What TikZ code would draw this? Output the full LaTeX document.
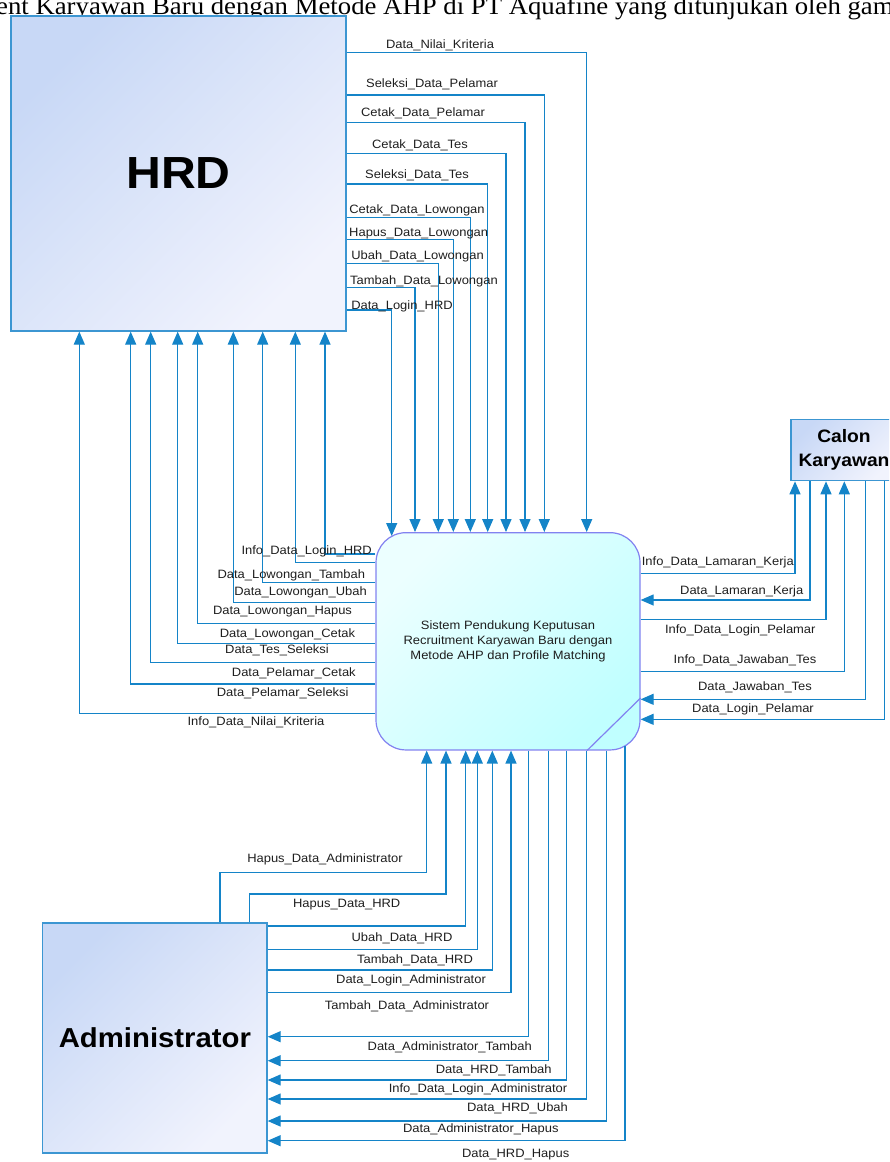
\documentclass[tikz,border=0pt]{standalone}
\usepackage{fontspec}
\setmainfont{Liberation Sans}
\newfontfamily\lblfont[FakeStretch=1.07]{Liberation Sans}
\newfontfamily\capfont[FakeStretch=1.07]{Liberation Serif}
\usetikzlibrary{arrows.meta}

\definecolor{flowc}{RGB}{20,132,200}
\definecolor{boxline}{RGB}{60,150,210}
\definecolor{boxA}{RGB}{200,216,246}
\definecolor{boxB}{RGB}{241,243,253}
\definecolor{procA}{RGB}{236,255,255}
\definecolor{procB}{RGB}{192,255,255}
\definecolor{procline}{RGB}{130,130,240}
\definecolor{txt}{RGB}{30,30,30}

\tikzset{
  flow/.style={draw=flowc, line width=1.2pt, -{Triangle[length=13pt,width=11pt]}},
  lbl/.style={font=\lblfont\fontsize{12.1}{14}\selectfont, inner sep=0pt, text=txt,
              text height=8.7pt, text depth=2.6pt},
  entity/.style={draw=boxline, line width=1.2pt, rectangle, inner sep=0pt,
                 top color=boxA, bottom color=boxB, shading angle=45,
                 align=center, text=black},
  process/.style={draw=procline, line width=1.2pt, rectangle, rounded corners=30pt,
                  inner sep=0pt, top color=procA, bottom color=procB, shading angle=45,
                  align=center, text=txt,
                  font=\lblfont\fontsize{12.1}{15}\selectfont}
}

\begin{document}
\begin{tikzpicture}[x=1pt,y=-1pt]
\useasboundingbox (0,0) rectangle (889,1162);
\clip (0,0) rectangle (889,1162);

% running text line of the surrounding page
\node[anchor=base west, inner sep=0pt, font=\capfont\fontsize{25}{30}\selectfont]
  (pageline) at (-4,14.5) {ent Karyawan Baru dengan Metode AHP di PT Aquafine yang ditunjukan oleh gam};

% external entities and the process
\node[entity, minimum width=335pt, minimum height=315pt,
      font=\lblfont\bfseries\fontsize{45}{50}\selectfont] (hrd) at (178.5,173.5) {HRD};
\node[entity, minimum width=106pt, minimum height=61.4pt,
      font=\lblfont\bfseries\fontsize{18}{24}\selectfont] (cal) at (844,450) {Calon\\Karyawan};
\node[entity, minimum width=224.3pt, minimum height=230pt,
      font=\lblfont\bfseries\fontsize{27.4}{30}\selectfont] (adm) at (154.9,1038) {Administrator};
\node[process, minimum width=264pt, minimum height=217.3pt] (proc) at (508,641.3)
  {Sistem Pendukung Keputusan\\Recruitment Karyawan Baru dengan\\Metode AHP dan Profile Matching};
\draw[procline, line width=1.2pt] (proc.east |- 0,698) -- (587,0 |- proc.south);

% HRD -> process
\draw[flow] (hrd.east |- 0,52.7)  -| (586.7,0 |- proc.north);
\draw[flow] (hrd.east |- 0,95)    -| (544.3,0 |- proc.north);
\draw[flow] (hrd.east |- 0,122.3) -| (525,0 |- proc.north);
\draw[flow] (hrd.east |- 0,153.3) -| (506,0 |- proc.north);
\draw[flow] (hrd.east |- 0,184)   -| (487.7,0 |- proc.north);
\draw[flow] (hrd.east |- 0,217.3) -| (470.3,0 |- proc.north);
\draw[flow] (hrd.east |- 0,239.3) -| (453.3,0 |- proc.north);
\draw[flow] (hrd.east |- 0,263.3) -| (438.3,0 |- proc.north);
\draw[flow] (hrd.east |- 0,287.7) -| (415,0 |- proc.north);
\coordinate (loginhrd) at (391.7,536);
\draw[flow] (hrd.east |- 0,310)   -| (loginhrd);

\node[lbl] (t1)  at (440,45)    {Data\_Nilai\_Kriteria};
\node[lbl] (t2)  at (432,84)    {Seleksi\_Data\_Pelamar};
\node[lbl] (t3)  at (423,113.3) {Cetak\_Data\_Pelamar};
\node[lbl] (t4)  at (420,145)   {Cetak\_Data\_Tes};
\node[lbl] (t5)  at (417,175.7) {Seleksi\_Data\_Tes};
\node[lbl] (t6)  at (417,210)   {Cetak\_Data\_Lowongan};
\node[lbl] (t7)  at (418.7,233.3) {Hapus\_Data\_Lowongan};
\node[lbl] (t8)  at (417.5,256) {Ubah\_Data\_Lowongan};
\node[lbl] (t9)  at (424,281.7) {Tambah\_Data\_Lowongan};
\node[lbl] (t10) at (402,306.7) {Data\_Login\_HRD};

% process -> HRD
\draw[flow] (proc.west |- 0,554)   -| (325,0 |- hrd.south);
\draw[flow] (proc.west |- 0,562.7) -| (295.3,0 |- hrd.south);
\draw[flow] (proc.west |- 0,582.3) -| (262.7,0 |- hrd.south);
\draw[flow] (proc.west |- 0,602.3) -| (233.3,0 |- hrd.south);
\draw[flow] (proc.west |- 0,623.3) -| (197.7,0 |- hrd.south);
\draw[flow] (proc.west |- 0,643.3) -| (177.7,0 |- hrd.south);
\draw[flow] (proc.west |- 0,662.7) -| (150.7,0 |- hrd.south);
\draw[flow] (proc.west |- 0,684)   -| (130.7,0 |- hrd.south);
\draw[flow] (proc.west |- 0,713.3) -| (79.3,0 |- hrd.south);

\node[lbl] (l1) at (306.7,551.7) {Info\_Data\_Login\_HRD};
\node[lbl] (l2) at (291.3,575.7) {Data\_Lowongan\_Tambah};
\node[lbl] (l3) at (300.5,592.7) {Data\_Lowongan\_Ubah};
\node[lbl] (l4) at (282.5,611.7) {Data\_Lowongan\_Hapus};
\node[lbl] (l5) at (287.5,634)   {Data\_Lowongan\_Cetak};
\node[lbl] (l6) at (277,650)     {Data\_Tes\_Seleksi};
\node[lbl] (l7) at (293.8,673.3) {Data\_Pelamar\_Cetak};
\node[lbl] (l8) at (282.7,693.3) {Data\_Pelamar\_Seleksi};
\node[lbl] (l9) at (256,722.3)   {Info\_Data\_Nilai\_Kriteria};

% process <-> Calon Karyawan
\draw[flow] (proc.east |- 0,573.3) -| (795,0 |- cal.south);
\draw[flow] (810,0 |- cal.south)   |- (proc.east |- 0,600);
\draw[flow] (proc.east |- 0,619.3) -| (826,0 |- cal.south);
\draw[flow] (proc.east |- 0,671.7) -| (844.3,0 |- cal.south);
\draw[flow] (865.7,0 |- cal.south) |- (proc.east |- 0,699.3);
\draw[flow] (884.3,0 |- cal.south) |- (proc.east |- 0,719.3);

\node[lbl] (r1) at (717.8,562.3) {Info\_Data\_Lamaran\_Kerja};
\node[lbl] (r2) at (741.7,591)   {Data\_Lamaran\_Kerja};
\node[lbl] (r3) at (740.3,630.7) {Info\_Data\_Login\_Pelamar};
\node[lbl] (r4) at (745,660)     {Info\_Data\_Jawaban\_Tes};
\node[lbl] (r5) at (755,687.3)   {Data\_Jawaban\_Tes};
\node[lbl] (r6) at (753,709)     {Data\_Login\_Pelamar};

% Administrator -> process
\draw[flow] (220,0 |- adm.north)   |- (426.7,872.7) -- (426.7,0 |- proc.south);
\draw[flow] (249.3,0 |- adm.north) |- (446,894) -- (446,0 |- proc.south);
\draw[flow] (adm.east |- 0,926)    -| (465.7,0 |- proc.south);
\draw[flow] (adm.east |- 0,949.3)  -| (477.3,0 |- proc.south);
\draw[flow] (adm.east |- 0,970)    -| (492.3,0 |- proc.south);
\draw[flow] (adm.east |- 0,992.3)  -| (511,0 |- proc.south);

\node[lbl] (b1) at (325,859.3)  {Hapus\_Data\_Administrator};
\node[lbl] (b2) at (346.7,904)  {Hapus\_Data\_HRD};
\node[lbl] (b3) at (402,938.3)  {Ubah\_Data\_HRD};
\node[lbl] (b4) at (415,960)    {Tambah\_Data\_HRD};
\node[lbl] (b5) at (411,980.7)  {Data\_Login\_Administrator};
\node[lbl] (b6) at (407,1006)   {Tambah\_Data\_Administrator};

% process -> Administrator
\draw[flow] (528.3,0 |- proc.south) |- (adm.east |- 0,1036.7);
\draw[flow] (548.3,0 |- proc.south) |- (adm.east |- 0,1060.7);
\draw[flow] (566.7,0 |- proc.south) |- (adm.east |- 0,1080);
\draw[flow] (586.7,0 |- proc.south) |- (adm.east |- 0,1099);
\draw[flow] (606.7,0 |- proc.south) |- (adm.east |- 0,1121);
\coordinate (hrdhapus) at (625,746);
\draw[flow] (hrdhapus) |- (adm.east |- 0,1140.7);

\node[lbl] (a1) at (449.7,1047.7) {Data\_Administrator\_Tambah};
\node[lbl] (a2) at (493.7,1070)   {Data\_HRD\_Tambah};
\node[lbl] (a3) at (478,1089.3)   {Info\_Data\_Login\_Administrator};
\node[lbl] (a4) at (517.5,1108.3) {Data\_HRD\_Ubah};
\node[lbl] (a5) at (480.8,1129.3) {Data\_Administrator\_Hapus};
\node[lbl] (a6) at (515.7,1154.3) {Data\_HRD\_Hapus};
\end{tikzpicture}
\end{document}
